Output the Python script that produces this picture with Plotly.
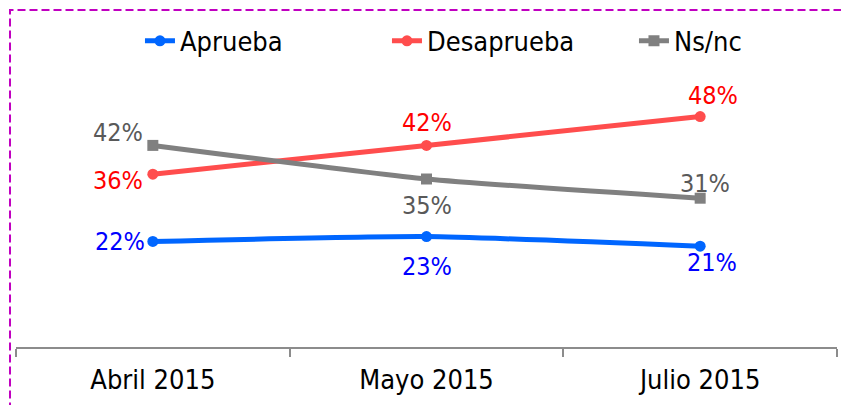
import plotly.graph_objects as go

# Survey waves and approval shares (%)
periodos = ["Abril 2015", "Mayo 2015", "Julio 2015"]
aprueba = [22, 23, 21]
desaprueba = [36, 42, 48]
nsnc = [42, 35, 31]

FONT = "DejaVu Sans Condensed, sans-serif"

series = [
    dict(name="Aprueba", y=aprueba, line="#0066FF", text="#0000FF", symbol="circle"),
    dict(name="Desaprueba", y=desaprueba, line="#FF4D4D", text="#FF0000", symbol="circle"),
    dict(name="Ns/nc", y=nsnc, line="#808080", text="#595959", symbol="square"),
]

fig = go.Figure()
for s in series:
    fig.add_trace(go.Scatter(
        x=periodos, y=s["y"], name=s["name"], mode="lines+markers",
        line=dict(color=s["line"], width=5, shape="spline", smoothing=0.5),
        marker=dict(color=s["line"], size=11, symbol=s["symbol"]),
        hoverinfo="skip",
    ))

# label placement per series and period: (xanchor, yanchor, xshift, yshift)
placement = {
    "Aprueba": [("right", "middle", -6, 0), ("center", "top", 0, -13), ("center", "top", 12, 0)],
    "Desaprueba": [("right", "middle", -8, -6), ("center", "bottom", 0, 6), ("center", "bottom", 13, 5)],
    "Ns/nc": [("right", "bottom", -8, -4), ("center", "top", 0, -10), ("center", "bottom", 5, -2)],
}

for s in series:
    for i, (cat, val) in enumerate(zip(periodos, s["y"])):
        xa, ya, xs, ys = placement[s["name"]][i]
        fig.add_annotation(
            x=cat, y=val, text=f"{val}%", showarrow=False,
            xanchor=xa, yanchor=ya, xshift=xs, yshift=ys,
            font=dict(family=FONT, size=25, color=s["text"]),
        )

# dashed frame around the chart
fig.add_shape(
    type="rect", xref="paper", yref="paper", layer="above",
    x0=-0.0073, x1=1.2, y0=-1.0, y1=1.1705,
    line=dict(color="#C000C0", width=2, dash="8px,4px"),
)

fig.update_layout(
    width=841, height=405,
    margin=dict(l=16, r=4, t=59, b=58, autoexpand=False),
    paper_bgcolor="white", plot_bgcolor="white",
    font=dict(family=FONT, size=27, color="black"),
    showlegend=True,
    legend=dict(
        orientation="h", x=0.151, xanchor="left", y=0.898, yanchor="middle",
        yref="container", entrywidth=202, entrywidthmode="pixels",
        font=dict(family=FONT, size=27, color="black"),
        bgcolor="rgba(0,0,0,0)",
    ),
    xaxis=dict(
        type="category", range=[-0.5, 2.5], tickson="boundaries",
        showline=True, linecolor="#8C8C8C", linewidth=2,
        ticks="outside", ticklen=8, tickcolor="#8C8C8C", tickwidth=2,
        ticklabelstandoff=8,
        showgrid=False, zeroline=False,
        tickfont=dict(family=FONT, size=27, color="black"),
    ),
    yaxis=dict(
        range=[0, 60], visible=False, showgrid=False, zeroline=False,
    ),
)

fig.write_html("out.html")
